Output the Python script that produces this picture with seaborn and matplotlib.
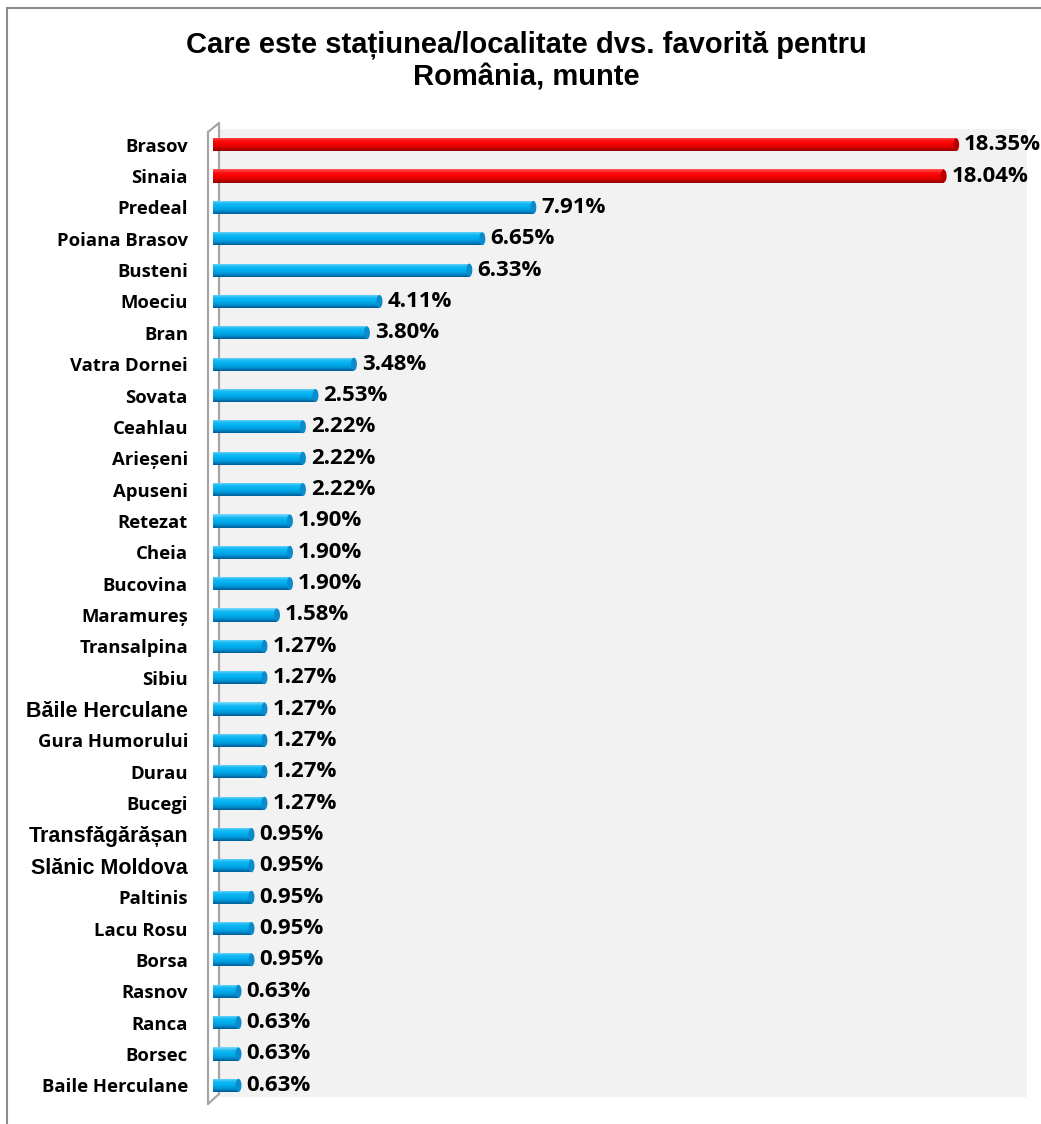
import numpy as np
import pandas as pd
import matplotlib
matplotlib.use("Agg")
import matplotlib.pyplot as plt
from matplotlib.colors import LinearSegmentedColormap
from matplotlib.patches import Ellipse
from matplotlib.lines import Line2D
import seaborn as sns

# Survey results: favourite mountain resort in Romania (% of respondents)
locations = [
    "Brasov", "Sinaia", "Predeal", "Poiana Brasov", "Busteni", "Moeciu", "Bran",
    "Vatra Dornei", "Sovata", "Ceahlau", "Arieșeni", "Apuseni", "Retezat", "Cheia",
    "Bucovina", "Maramureș", "Transalpina", "Sibiu", "Băile Herculane",
    "Gura Humorului", "Durau", "Bucegi", "Transfăgărășan", "Slănic Moldova",
    "Paltinis", "Lacu Rosu", "Borsa", "Rasnov", "Ranca", "Borsec", "Baile Herculane",
]
shares = [
    18.35, 18.04, 7.91, 6.65, 6.33, 4.11, 3.80,
    3.48, 2.53, 2.22, 2.22, 2.22, 1.90, 1.90,
    1.90, 1.58, 1.27, 1.27, 1.27,
    1.27, 1.27, 1.27, 0.95, 0.95,
    0.95, 0.95, 0.95, 0.63, 0.63, 0.63, 0.63,
]
top_group = ["Brasov", "Sinaia"]
# labels typeset in a different face in the original layout
arial_labels = ["Băile Herculane", "Transfăgărășan", "Slănic Moldova"]

df = pd.DataFrame({"location": locations, "share": shares})
df["group"] = np.where(df["location"].isin(top_group), "top", "other")

sns.set_theme(style="white")
plt.rcParams["font.family"] = ["Open Sans", "DejaVu Sans"]
plt.rcParams["text.color"] = "black"

W, H = 1041, 1124
fig = plt.figure(figsize=(W / 100, H / 100), dpi=100)
fig.patch.set_facecolor("white")

# axes placement in pixels
ax_l, ax_r, ax_t, ax_b = 213, 1027, 129, 1101
px_per_unit = 40.5
ax = fig.add_axes([ax_l / W, 1 - ax_b / H, (ax_r - ax_l) / W, (ax_b - ax_t) / H])
ax.set_facecolor("none")
ax.set_zorder(2)

palette = {"top": "#ff0000", "other": "#00b0f0"}
sns.barplot(data=df, y="location", x="share", hue="group", palette=palette,
            order=locations, dodge=False, legend=False, width=0.42,
            saturation=1, ax=ax, linewidth=0)
bar_patches = list(ax.patches)

xmax = (ax_r - ax_l) / px_per_unit
ax.set_xlim(0, xmax)
ax.set_ylim(len(locations) - 0.5, -0.5)

# cylinder shading on each bar
cmaps = {
    "top": LinearSegmentedColormap.from_list(
        "r", ["#ff5a5a", "#ff1010", "#f80000", "#d40000", "#900000"]),
    "other": LinearSegmentedColormap.from_list(
        "b", ["#7fdcff", "#14b8f2", "#00b0f0", "#0096d6", "#005a94"]),
}
grad = np.linspace(0, 1, 64).reshape(-1, 1)
cap_w = 6 / px_per_unit
for patch in bar_patches:
    x0, y0 = patch.get_x(), patch.get_y()
    w, h = patch.get_width(), patch.get_height()
    loc = locations[int(round(y0 + h / 2))]
    key = "top" if loc in top_group else "other"
    im = ax.imshow(grad, cmap=cmaps[key], aspect="auto",
                   extent=[x0, x0 + w, y0 + h, y0], zorder=3,
                   interpolation="bicubic")
    im.set_clip_path(patch)
    patch.set_zorder(2)
    cap_col = "#b80000" if key == "top" else "#0a8ccc"
    ax.add_patch(Ellipse((x0 + w, y0 + h / 2), cap_w, h * 0.98,
                         facecolor=cap_col, edgecolor="none", zorder=4))

ax.set_xlim(0, xmax)
ax.set_ylim(len(locations) - 0.5, -0.5)

# value labels
for i, v in enumerate(shares):
    ax.text(v + 8 / px_per_unit, i, f"{v:.2f}%", va="center", ha="left",
            fontsize=16, fontweight="bold", color="black", zorder=5)

ax.set_xlabel("")
ax.set_ylabel("")
ax.set_xticks([])
ax.set_yticks(range(len(locations)))
ax.set_yticklabels(locations)
ax.tick_params(axis="y", length=0, pad=18)
for lbl in ax.get_yticklabels():
    if lbl.get_text() in arial_labels:
        lbl.set_fontfamily(["Liberation Sans", "DejaVu Sans"])
        lbl.set_fontsize(15.5)
    else:
        lbl.set_fontsize(13.3)
    lbl.set_fontweight("bold")
    lbl.set_color("black")
for s in ax.spines.values():
    s.set_visible(False)

# pixel -> figure coordinate helpers
def fx(px):
    return px / W

def fy(py):
    return 1 - py / H

# plot-area background, behind the bars
bg_ax = fig.add_axes([fx(219), fy(ax_b - 4), fx(ax_r) - fx(219), fy(ax_t) - fy(ax_b - 4)])
bg_ax.set_zorder(0)
bg_ax.set_facecolor("#f2f2f2")
bg_ax.set_xticks([])
bg_ax.set_yticks([])
for s in bg_ax.spines.values():
    s.set_visible(False)

# 3D side wall of the plot area
wall = "#a6a6a6"
for xs, ys in [
    ([208, 208], [132, 1104]),
    ([219, 219], [123, 1094]),
    ([208, 219], [132, 123]),
    ([208, 219], [1104, 1094]),
]:
    fig.add_artist(Line2D([fx(x) for x in xs], [fy(y) for y in ys],
                          color=wall, lw=1.6, zorder=1))

# chart frame (left and top edges)
fig.add_artist(Line2D([fx(7), fx(7)], [fy(8), fy(1124)], color="#8c8c8c", lw=1.5, zorder=1))
fig.add_artist(Line2D([fx(7), fx(1041)], [fy(8), fy(8)], color="#8c8c8c", lw=1.5, zorder=1))

fig.text(fx(526), fy(61), "Care este stațiunea/localitate dvs. favorită pentru\nRomânia, munte",
         ha="center", va="center", fontsize=21, fontweight="bold", color="black",
         family=["Liberation Sans", "DejaVu Sans"], linespacing=1.2)

fig.savefig("out.png", dpi=100)
